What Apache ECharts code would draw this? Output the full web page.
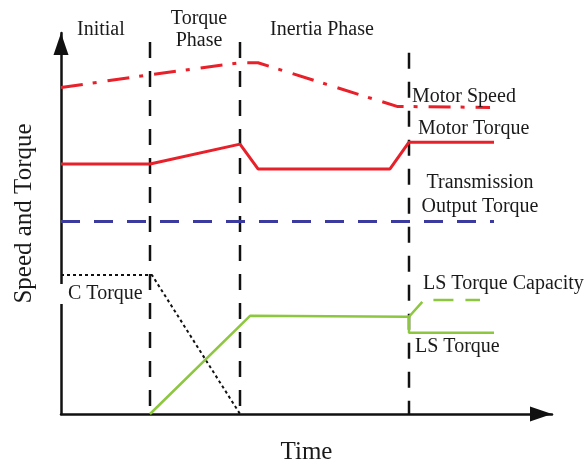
<!DOCTYPE html>
<html><head><meta charset="utf-8">
<script src="https://cdn.jsdelivr.net/npm/echarts@6/dist/echarts.min.js"></script>
<style>html,body{margin:0;padding:0;background:#fff}#c{width:586px;height:470px}</style>
</head><body><div id="c"></div>
<script>
// ---- data (arbitrary time / level units) ----
const timeMax = 491;
const levelMax = 384;
const phaseBounds = [89, 179, 348];
const phaseTops = [375, 375, 364];
const phaseNames = ['Initial', 'Torque\nPhase', 'Inertia Phase'];

const motorSpeedT = [0, 89, 179, 197, 336, 429];
const motorSpeedV = [329, 342, 354, 354, 310, 309];
const motorTorqueT = [0, 89, 179, 197, 329, 348, 433];
const motorTorqueV = [252, 252, 272, 247, 247, 274, 274];
const outTorqueT = [0, 433];
const outTorqueV = [194, 194];
const cTorqueT = [0, 91, 179];
const cTorqueV = [140, 140, 0];
const lsTorqueT = [89, 189, 348, 348, 433];
const lsTorqueV = [0, 99, 98, 82, 82];
const lsCapT = [348, 363, 419];
const lsCapV = [98, 115, 115];

const seriesLabels = ['Motor Speed', 'Motor Torque', 'Transmission\nOutput Torque', 'C Torque', 'LS Torque Capacity', 'LS Torque'];

// ---- build ----
const zip = (a, b) => a.map((v, i) => [v, b[i]]);
const FONT = '"Liberation Serif", "Times New Roman", serif';
const RED = '#e8202a', GREEN = '#8dc63f', BLUE = '#3b3a9f', INK = '#1a1a1a';

const series = [];
phaseBounds.forEach((b, i) => {
  series.push({
    name: 'phase boundary ' + (i + 1), type: 'line', showSymbol: false, silent: true, z: 1,
    data: [[b, phaseTops[i]], [b, 0]],
    lineStyle: { color: '#111', width: 2.5, type: [16, 13] }
  });
});
function line(name, t, v, color, width, type, z) {
  series.push({ name, type: 'line', showSymbol: false, silent: true, z: z || 3,
    data: zip(t, v), lineStyle: { color, width, type: type || 'solid' } });
}
line('Motor Speed', motorSpeedT, motorSpeedV, RED, 3, [22, 10, 4, 11]);
line('Motor Torque', motorTorqueT, motorTorqueV, RED, 3);
line('Transmission Output Torque', outTorqueT, outTorqueV, BLUE, 3, [19, 14]);
line('C Torque', cTorqueT, cTorqueV, '#111', 2, [3, 3]);
line('LS Torque', lsTorqueT, lsTorqueV, GREEN, 2.5);
line('LS Torque Capacity', lsCapT, lsCapV, GREEN, 2.5, [20, 12]);

function txt(text, x, y, opts) {
  return Object.assign({ type: 'text', x, y, z: 100, silent: true,
    style: Object.assign({ text, font: '20px ' + FONT, fill: INK, align: 'left', verticalAlign: 'middle', lineHeight: 22 }, (opts || {}))
  });
}
const graphic = [
  txt(phaseNames[0], 77, 30),
  txt(phaseNames[1], 199, 30, { align: 'center' }),
  txt(phaseNames[2], 270, 30),
  txt(seriesLabels[0], 412, 97),
  txt(seriesLabels[1], 418, 129),
  txt(seriesLabels[2], 480, 195, { align: 'center', lineHeight: 24 }),
  txt(seriesLabels[3], 59, 294, { backgroundColor: '#fff', padding: [0, 2, 0, 9], lineHeight: 20 }),
  txt(seriesLabels[4], 423, 284),
  txt(seriesLabels[5], 415, 347)
];

const axisLine = { show: true, symbol: ['none', 'triangle'], symbolSize: [15, 22], symbolOffset: [0, -11],
  lineStyle: { color: '#111', width: 2.5 } };

const chart = echarts.init(document.getElementById('c'), null, { renderer: 'canvas' });
chart.setOption({
  animation: false,
  backgroundColor: '#fff',
  grid: { left: 61, top: 33, width: timeMax, height: levelMax, containLabel: false },
  xAxis: { type: 'value', min: 0, max: timeMax, name: 'Time', nameLocation: 'middle', nameGap: 26,
    nameTextStyle: { fontFamily: FONT, fontSize: 25, color: INK },
    axisLine, axisTick: { show: false }, axisLabel: { show: false }, splitLine: { show: false } },
  yAxis: { type: 'value', min: 0, max: levelMax, name: 'Speed and Torque', nameLocation: 'middle', nameGap: 24, nameRotate: 90,
    nameTextStyle: { fontFamily: FONT, fontSize: 25, color: INK, padding: [0, 0, 0, 20] },
    axisLine, axisTick: { show: false }, axisLabel: { show: false }, splitLine: { show: false } },
  series,
  graphic
});
</script></body></html>
